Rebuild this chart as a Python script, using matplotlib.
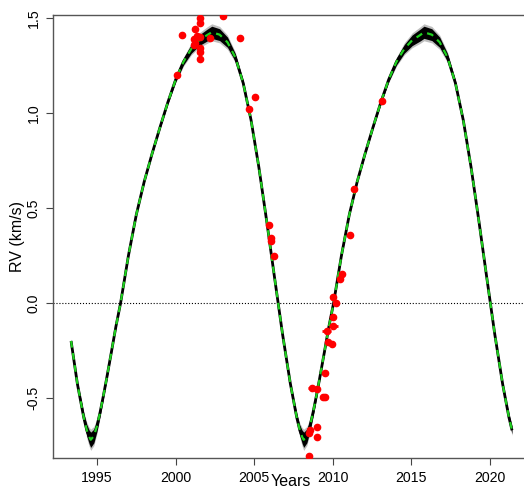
import numpy as np
import matplotlib.pyplot as plt

plt.rcParams['font.family'] = ['Liberation Sans', 'DejaVu Sans']

# best-fit orbit curve
curve_years = [
    1993.35, 1993.75, 1994.15, 1994.35, 1994.5, 1994.6, 1994.8, 1995.0, 1995.2, 1995.4,
    1995.6, 1995.9, 1996.2, 1996.5, 1997.0, 1997.5, 1998.0, 1998.5, 1999.0, 1999.5,
    2000.0, 2000.5, 2001.0, 2001.5, 2002.0, 2002.3, 2002.8, 2003.3, 2003.8, 2004.3,
    2004.8, 2005.3, 2005.8, 2006.3, 2006.8, 2007.3, 2007.7, 2007.9, 2008.05, 2008.15,
    2008.35, 2008.55, 2008.75, 2008.95, 2009.15, 2009.45, 2009.75, 2010.05, 2010.55, 2011.05,
    2011.55, 2012.05, 2012.55, 2013.05, 2013.55, 2014.05, 2014.55, 2015.05, 2015.55, 2015.8,
    2016.3, 2016.8, 2017.3, 2017.8, 2018.3, 2018.8, 2019.3, 2019.8, 2020.3, 2020.8,
    2021.2, 2021.4,
]
curve_rv = [
    -0.20, -0.425, -0.60, -0.67, -0.705, -0.72, -0.70, -0.647, -0.574, -0.491,
    -0.403, -0.265, -0.125, 0.0, 0.25, 0.465, 0.638, 0.785, 0.923, 1.055,
    1.175, 1.27, 1.338, 1.383, 1.41, 1.425, 1.4125, 1.3725, 1.2925, 1.1575,
    0.9625, 0.7125, 0.4275, 0.13, -0.1625, -0.425, -0.60, -0.67, -0.705, -0.72,
    -0.70, -0.647, -0.574, -0.491, -0.403, -0.265, -0.125, 0.0, 0.25, 0.465,
    0.638, 0.785, 0.923, 1.055, 1.175, 1.27, 1.338, 1.383, 1.41, 1.425,
    1.4125, 1.3725, 1.2925, 1.1575, 0.9625, 0.7125, 0.4275, 0.13, -0.1625, -0.425,
    -0.60, -0.67,
]
# half-width of the posterior bundle around the curve
curve_spread = [
    0.008, 0.012, 0.022, 0.03, 0.036, 0.04, 0.036, 0.028, 0.02, 0.014,
    0.01, 0.007, 0.005, 0.005, 0.005, 0.005, 0.005, 0.005, 0.006, 0.008,
    0.012, 0.017, 0.023, 0.028, 0.031, 0.032, 0.031, 0.027, 0.02, 0.013,
    0.008, 0.005, 0.005, 0.005, 0.005, 0.009, 0.018, 0.027, 0.035, 0.04,
    0.036, 0.028, 0.02, 0.014, 0.01, 0.007, 0.005, 0.005, 0.005, 0.005,
    0.005, 0.005, 0.006, 0.008, 0.012, 0.017, 0.023, 0.028, 0.031, 0.032,
    0.031, 0.027, 0.02, 0.013, 0.008, 0.005, 0.005, 0.005, 0.005, 0.009,
    0.016, 0.02,
]

# observed radial velocities
obs_year = [
    2000.07, 2000.43, 2001.23, 2001.53, 2001.53, 2001.17, 2001.34, 2001.55, 2001.23, 2001.2,
    2001.53, 2001.53, 2001.53, 2002.17, 2003.04, 2004.1, 2004.65, 2005.05, 2005.96, 2006.05,
    2006.07, 2006.26, 2009.99, 2010.18, 2010.03, 2010.03, 2009.6, 2009.71, 2009.93, 2009.5,
    2008.7, 2009.01, 2009.35, 2009.5, 2008.98, 2008.57, 2008.49, 2008.98, 2008.48, 2010.46,
    2010.57, 2011.1, 2011.37, 2013.11,
]
obs_rv = [
    1.20, 1.412, 1.44, 1.50, 1.474, 1.388, 1.405, 1.398, 1.367, 1.36,
    1.344, 1.323, 1.283, 1.395, 1.509, 1.396, 1.019, 1.085, 0.41, 0.34,
    0.328, 0.247, 0.032, 0.0, -0.075, -0.119, -0.15, -0.206, -0.214, -0.366,
    -0.45, -0.454, -0.493, -0.496, -0.651, -0.670, -0.683, -0.707, -0.805, 0.126,
    0.153, 0.358, 0.598, 1.065,
]
obs_err = [
    0.12, 0.12, 0.12, 0.12, 0.12, 0.12, 0.12, 0.12, 0.12, 0.12,
    0.12, 0.12, 0.12, 0.12, 0.12, 0.12, 0.12, 0.12, 0.12, 0.12,
    0.12, 0.12, 0.12, 0.12, 0.12, 0.3, 0.3, 0.12, 0.12, 0.12,
    0.3, 0.12, 0.12, 0.12, 0.12, 0.12, 0.12, 0.12, 0.12, 0.12,
    0.12, 0.12, 0.12, 0.12,
]

yr = np.array(curve_years)
rv = np.array(curve_rv)
sp = np.array(curve_spread)

fig = plt.figure(figsize=(5.24, 4.91), dpi=100)
ax = fig.add_axes([53 / 524, 33 / 491, 476.3 / 524, 443 / 491])

ax.axhline(0, color='black', ls=':', lw=0.8, zorder=1)

# posterior bundle: grey halo, black core, then the dashed best fit
ax.fill_between(yr, rv - sp * 1.4, rv + sp * 1.4, color='black', alpha=0.25, lw=0, zorder=2)
ax.fill_between(yr, rv - sp, rv + sp, color='black', lw=0, zorder=2)
ax.plot(yr, rv, color='black', lw=2.0, zorder=3, solid_capstyle='butt')
ax.plot(yr, rv, color='#1fd01f', lw=1.6, ls=(0, (3, 2.5)), zorder=4)

ax.errorbar(obs_year, obs_rv, xerr=obs_err, fmt='o', color='red', ms=4.5,
            elinewidth=2, capsize=0, zorder=5)

ax.set_xlim(1992.2, 2022.5)
ax.set_ylim(-0.816, 1.516)
ax.set_xticks([1995, 2000, 2005, 2010, 2015, 2020])
ax.set_yticks([-0.5, 0.0, 0.5, 1.0, 1.5])
ax.set_yticklabels(['-0.5', '0.0', '0.5', '1.0', '1.5'], rotation=90, va='center')
ax.tick_params(labelsize=10.2, length=5, width=0.8, color='#444444', pad=4)

for side in ['left', 'top', 'bottom']:
    ax.spines[side].set_color('#555555')
    ax.spines[side].set_linewidth(1.0)
ax.spines['right'].set_visible(False)

ax.set_ylabel('RV (km/s)', fontsize=11.5)
ax.yaxis.set_label_coords(-0.058, 0.5)
ax.set_xlabel('Years', fontsize=11.5)
ax.xaxis.set_label_coords(0.5, -0.036)

fig.savefig('out.png', dpi=100)
